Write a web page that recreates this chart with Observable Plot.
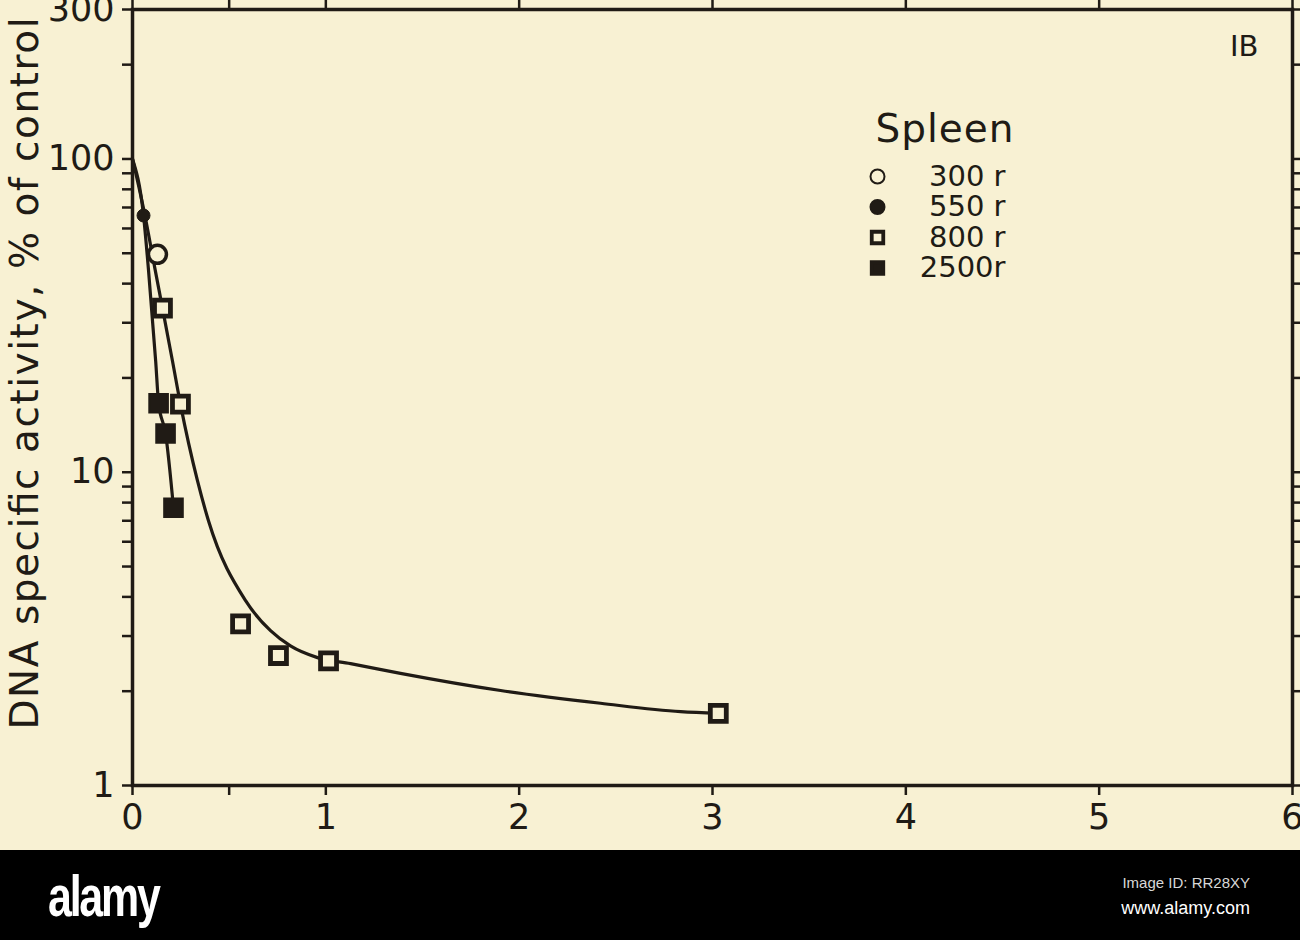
<!DOCTYPE html>
<html>
<head>
<meta charset="utf-8">
<script src="https://cdn.jsdelivr.net/npm/d3@7"></script>
<script src="https://cdn.jsdelivr.net/npm/@observablehq/plot@0.6"></script>
<style>
  html, body { margin: 0; padding: 0; }
  body { width: 1300px; height: 940px; overflow: hidden; background: #f8f1d3; }
  #chart { width: 1300px; height: 850px; }
  #band { position: relative; width: 1300px; height: 90px; background: #000; }
  #logo { position: absolute; left: 48px; top: 12px; color: #fff; font: bold 58px "Liberation Sans Narrow", "Liberation Sans", sans-serif; letter-spacing: -3px; transform: scaleX(0.74); transform-origin: left top; }
  #imgid { position: absolute; right: 50px; top: 24px; color: #d8d8d8; font: 15px "Liberation Sans Narrow", "Liberation Sans", sans-serif; }
  #www { position: absolute; right: 50px; top: 48px; color: #fff; font: 18px "Liberation Sans Narrow", "Liberation Sans", sans-serif; }
</style>
</head>
<body>
<div id="chart"></div>
<div id="band"><div id="logo">alamy</div><div id="imgid">Image ID: RR28XY</div><div id="www">www.alamy.com</div></div>
<script>
// ---- data ----
const doses = ["300 r", "550 r", "800 r", "2500r"];
const doseSymbol = ["circle", "circle", "square", "square"];
const doseFilled = [false, true, false, true];

const pointDose = ["300 r", "550 r", "800 r", "800 r", "800 r", "800 r", "800 r", "800 r", "2500r", "2500r", "2500r"];
const pointTime = [0.129, 0.057, 0.155, 0.248, 0.559, 0.755, 1.014, 3.03, 0.135, 0.171, 0.212];
const pointActivity = [49.6, 66, 33.4, 16.5, 3.28, 2.6, 2.5, 1.70, 16.6, 13.3, 7.7];

// fitted curve through 300/550/800 r
const curveATime = [0, 0.06, 0.115, 0.155, 0.207, 0.248, 0.336, 0.393, 0.585, 0.714, 0.817, 0.957, 1.128, 1.386, 1.904, 2.421, 2.835, 3.03];
const curveAAct = [100, 68, 45, 33.4, 22.6, 16.5, 9.4, 7.0, 3.89, 3.12, 2.79, 2.56, 2.45, 2.28, 2.01, 1.83, 1.72, 1.70];
// curve through 2500 r
const curveBTime = [0, 0.057, 0.083, 0.12, 0.135, 0.171, 0.212];
const curveBAct = [100, 66, 44, 22.6, 16.6, 13.3, 7.7];

const xTicks = [0, 0.5, 1, 2, 3, 4, 5, 6];
const xTickLabels = ["0", "", "1", "2", "3", "4", "5", "6"];
const yTicks = [1, 2, 3, 4, 5, 6, 7, 8, 9, 10, 20, 30, 40, 50, 60, 70, 80, 90, 100, 200, 300];
const yLabelled = [1, 10, 100, 300];

const yTitle = "DNA specific activity, % of control";
const legendTitle = "Spleen";
const panelTag = "IB";

// ---- styling ----
const ink = "#201b15";
const paper = "#f8f1d3";
const font = "DejaVu Sans";

const points = pointTime.map((t, i) => ({t, a: pointActivity[i], dose: pointDose[i]}));
const curveA = curveATime.map((t, i) => ({t, a: curveAAct[i]}));
const curveB = curveBTime.map((t, i) => ({t, a: curveBAct[i]}));
const byDose = d => points.filter(p => p.dose === d);

const legendMarks = [];
doses.forEach((d, i) => {
  const dy = 175 + i * 30.5 - 8;
  legendMarks.push(Plot.dot([d], {
    frameAnchor: "top-left", dx: 745, dy,
    symbol: doseSymbol[i],
    r: doseSymbol[i] === "circle" ? 7 : 6.5,
    fill: doseFilled[i] ? ink : paper, stroke: ink, strokeWidth: doseSymbol[i] === "square" ? 3.8 : 2
  }));
  legendMarks.push(Plot.text([d], {
    frameAnchor: "top-left", dx: 873, dy, text: x => x, textAnchor: "end", lineAnchor: "middle",
    fontSize: 29, fill: ink, fontFamily: font
  }));
});

const chart = Plot.plot({
  width: 1300,
  height: 850,
  marginLeft: 132,
  marginRight: 8,
  marginTop: 9,
  marginBottom: 65,
  style: {background: "transparent", color: ink, fontFamily: font},
  x: {domain: [0, 6]},
  y: {type: "log", domain: [1, 300]},
  marks: [
    Plot.axisY({anchor: "left", ticks: yTicks, tickSize: 10, tickPadding: 8, strokeWidth: 2.5,
      tickFormat: v => yLabelled.includes(v) ? String(v) : "", fontSize: 35, label: null, fill: ink}),
    Plot.axisY({anchor: "right", ticks: yTicks, tickSize: 9, strokeWidth: 2.5, tickFormat: () => "", label: null}),
    Plot.axisX({anchor: "bottom", ticks: xTicks, tickSize: 10, tickPadding: 9, strokeWidth: 2.5,
      tickFormat: v => xTickLabels[xTicks.indexOf(v)], fontSize: 35, label: null, fill: ink}),
    Plot.axisX({anchor: "top", ticks: xTicks, tickSize: 10, strokeWidth: 2.5, tickFormat: () => "", label: null}),
    Plot.frame({stroke: ink, strokeWidth: 3.5}),
    Plot.line(curveA, {x: "t", y: "a", curve: "monotone-x", stroke: ink, strokeWidth: 3.2}),
    Plot.line(curveB, {x: "t", y: "a", curve: "monotone-x", stroke: ink, strokeWidth: 3.2}),
    Plot.dot(byDose("550 r"), {x: "t", y: "a", symbol: "circle", r: 6.5, fill: ink, stroke: ink, strokeWidth: 1}),
    Plot.dot(byDose("300 r"), {x: "t", y: "a", symbol: "circle", r: 9, fill: paper, stroke: ink, strokeWidth: 3.5}),
    Plot.dot(byDose("800 r"), {x: "t", y: "a", symbol: "square", r: 9, fill: paper, stroke: ink, strokeWidth: 4.8}),
    Plot.dot(byDose("2500r"), {x: "t", y: "a", symbol: "square", r: 10.5, fill: ink, stroke: ink, strokeWidth: 2}),
    Plot.text([yTitle], {frameAnchor: "left", dx: -107, dy: -24, rotate: -90, textAnchor: "middle", lineAnchor: "middle",
      fontSize: 39, fill: ink, fontFamily: font}),
    Plot.text([legendTitle], {frameAnchor: "top-left", dx: 743, dy: 120, textAnchor: "start", lineAnchor: "middle",
      fontSize: 39, fill: ink, fontFamily: font}),
    Plot.text([panelTag], {frameAnchor: "top-right", dx: -34, dy: 37, textAnchor: "end", lineAnchor: "middle",
      fontSize: 29, fill: ink, fontFamily: font}),
    ...legendMarks
  ]
});
// stretch long titles to the span they cover in the reference
d3.select(chart).selectAll("text").each(function () {
  if (this.textContent === yTitle) d3.select(this).attr("textLength", 712).attr("lengthAdjust", "spacing");
  if (this.textContent === legendTitle) d3.select(this).attr("textLength", 138).attr("lengthAdjust", "spacing");
});
document.getElementById("chart").appendChild(chart);
</script>
</body>
</html>
